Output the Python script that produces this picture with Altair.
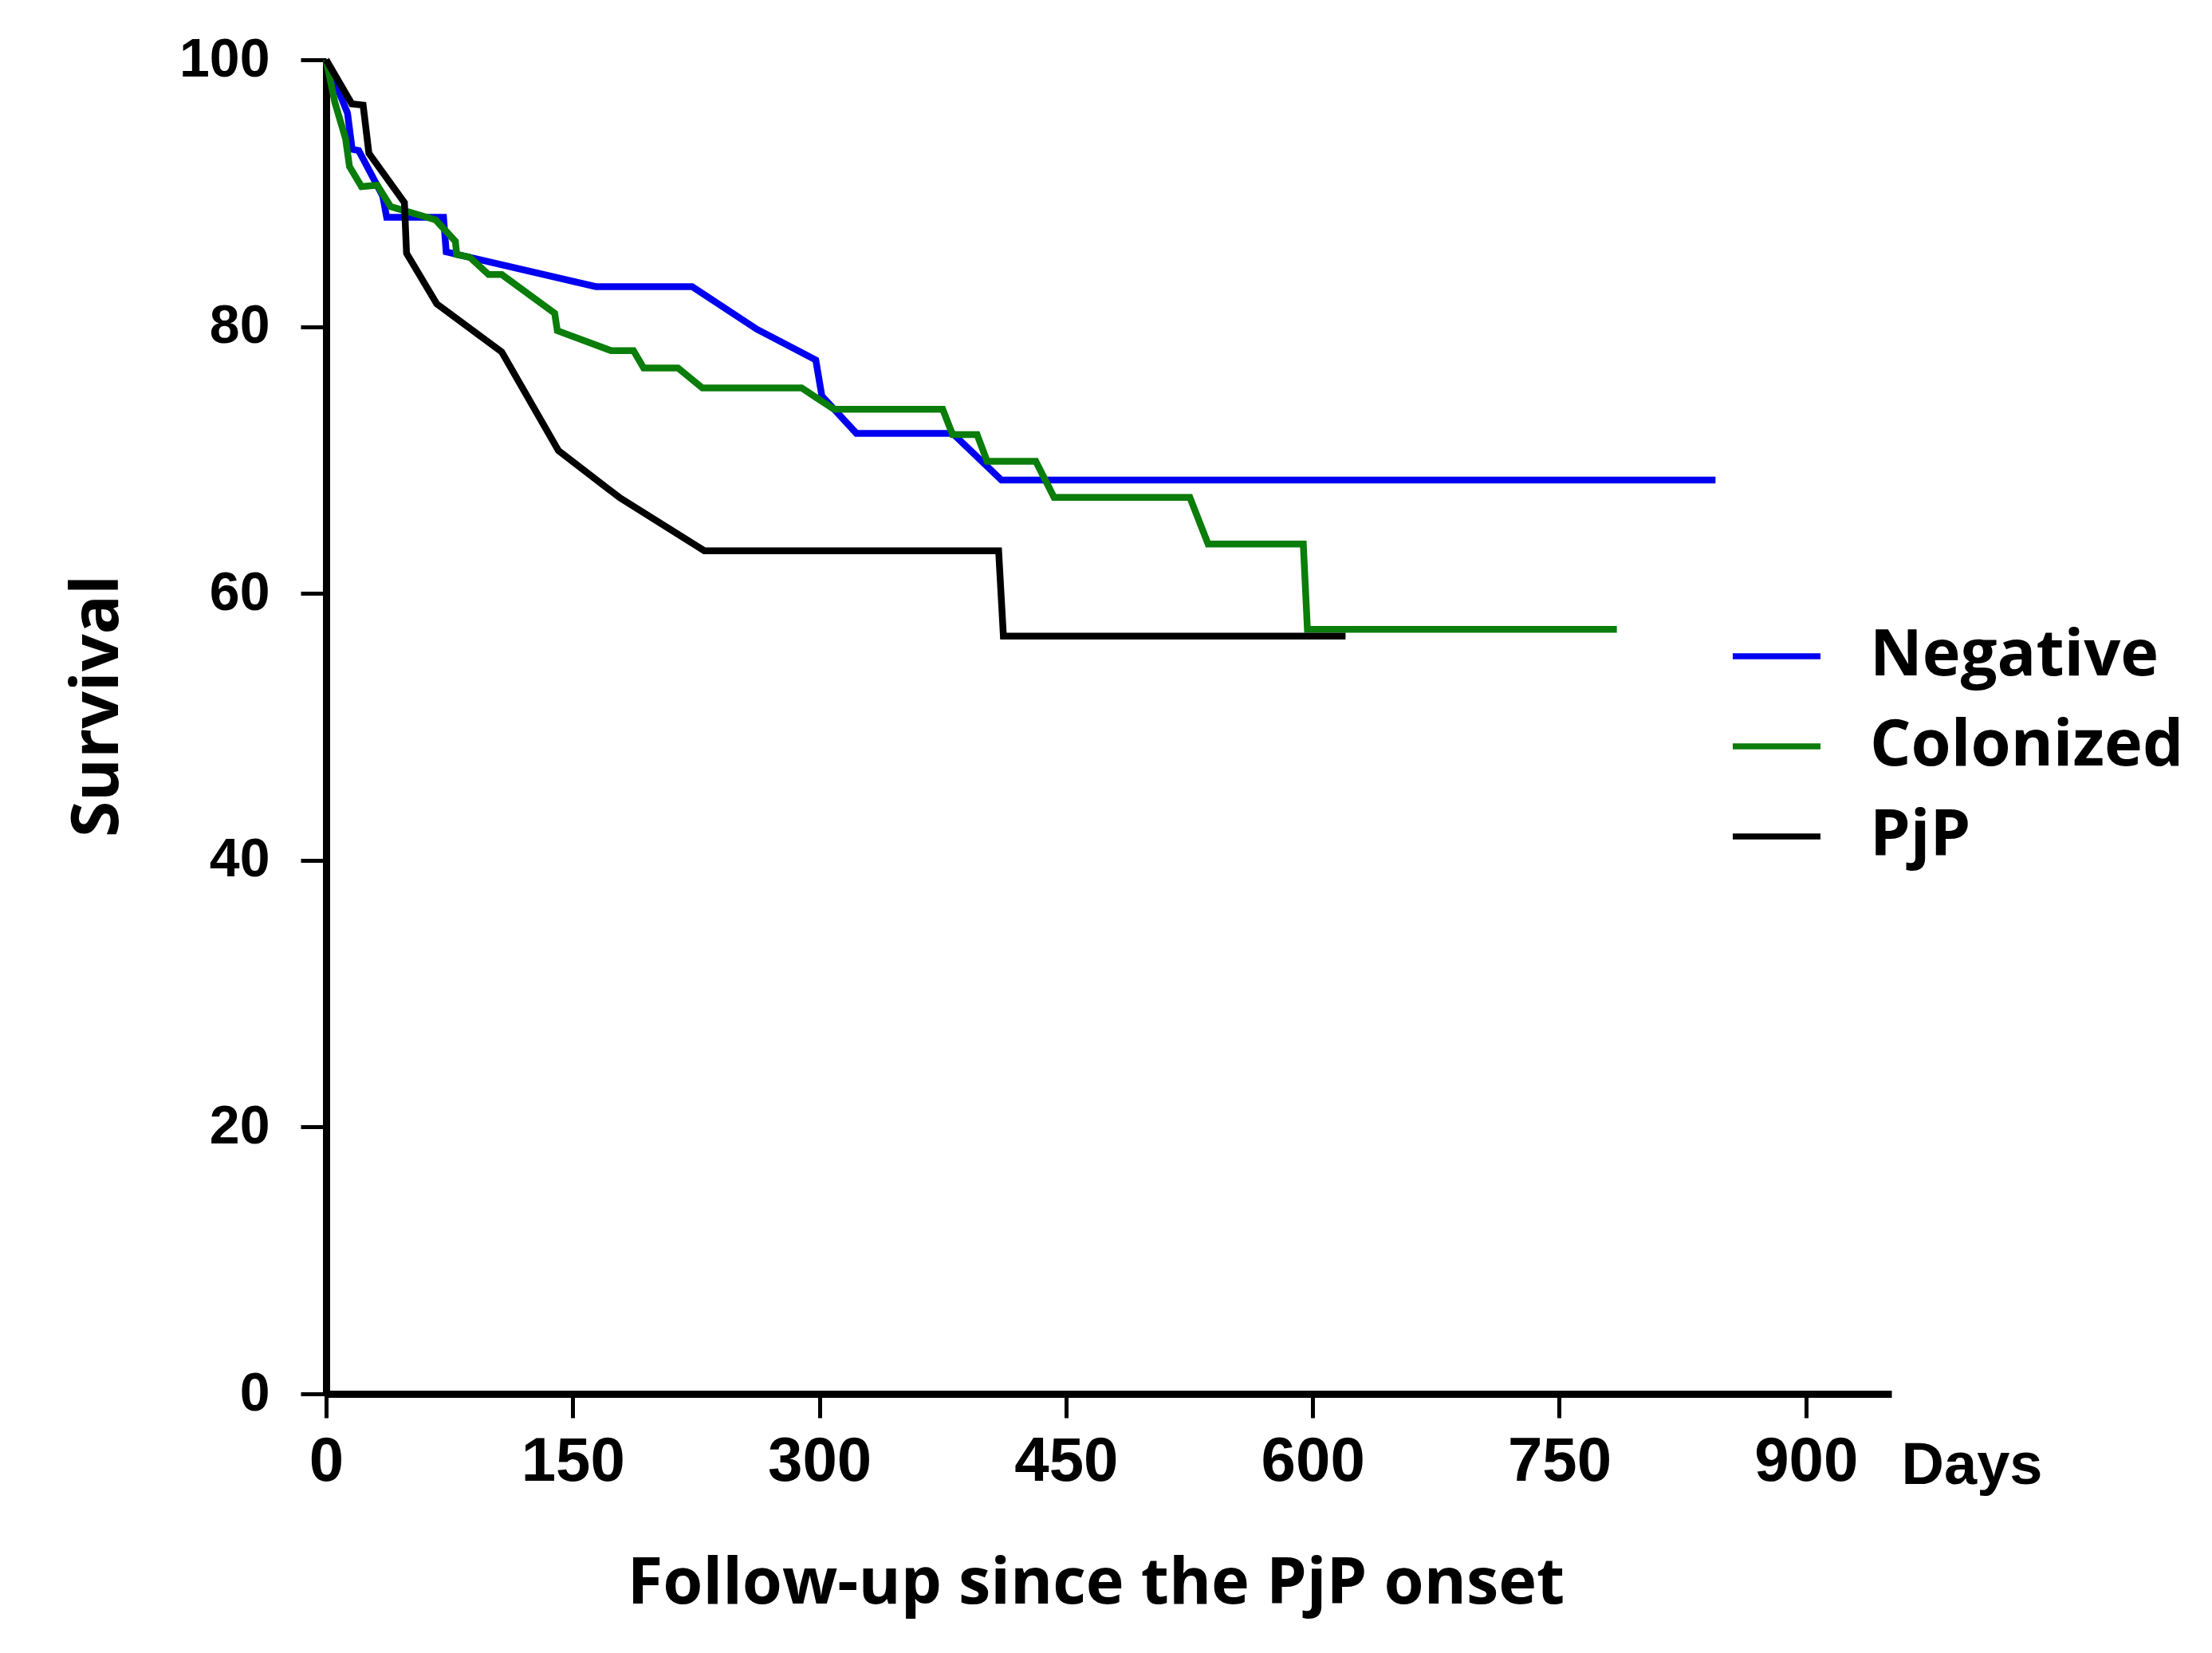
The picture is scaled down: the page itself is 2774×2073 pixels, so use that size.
import altair as alt
import pandas as pd

# ---- data ----
groups = ["Negative", "Colonized", "PjP"]
colors = ["#0000f0", "#0a7d0a", "#000000"]

neg_days = [0, 13, 15.8, 19.8, 34.4, 36.8, 71.4, 73, 164, 222.6, 249.7, 262, 297.8, 301.5, 322.5, 381, 410.7, 845]
neg_surv = [100, 96, 93.3, 93.2, 89.8, 88.2, 88.2, 85.6, 83, 83, 80.8, 79.8, 77.5, 74.8, 72, 72, 68.5, 68.5]

col_days = [0, 5.3, 11.8, 14.2, 21.5, 31.1, 39.2, 66.6, 78.6, 79.4, 87.4, 98.8, 106.8, 139, 140.6, 173.3,
            186.9, 193.1, 214, 228.8, 289.2, 308.9, 375, 381, 395.9, 402, 431.6, 442.7, 525.3, 536.4,
            594.3, 596.8, 785]
col_surv = [100, 96.8, 94.1, 92, 90.5, 90.6, 89, 88, 86.4, 85.4, 85.2, 83.9, 83.9, 81, 79.7, 78.2,
            78.2, 76.9, 76.9, 75.4, 75.4, 73.8, 73.8, 71.9, 71.9, 69.9, 69.9, 67.2, 67.2, 63.7,
            63.7, 57.3, 57.3]

pjp_days = [0, 15.6, 22.5, 26, 47.6, 48.9, 67.3, 106.8, 141.3, 178.3, 230, 409, 411.9, 620]
pjp_surv = [100, 96.7, 96.6, 93, 89.3, 85.5, 81.7, 78.1, 70.7, 67.2, 63.2, 63.2, 56.8, 56.8]

x_ticks = [0, 150, 300, 450, 600, 750, 900]
y_ticks = [0, 20, 40, 60, 80, 100]

rows = []
for g, ds, ss in zip(groups, [neg_days, col_days, pjp_days], [neg_surv, col_surv, pjp_surv]):
    for i, (d, s) in enumerate(zip(ds, ss)):
        rows.append({"group": g, "days": d, "survival": s, "idx": i})
df = pd.DataFrame(rows)

W, H = 1963, 1673

x_scale = alt.Scale(domain=[0, 952], nice=False, zero=False)
y_scale = alt.Scale(domain=[0, 100], nice=False)

lines = alt.Chart(df).mark_line(strokeWidth=8.5, clip=False).encode(
    x=alt.X("days:Q", scale=x_scale,
            axis=alt.Axis(values=x_ticks, title="Follow-up since the PjP onset",
                          grid=False, domainWidth=9, domainColor="black",
                          tickSize=30, tickWidth=5, tickColor="black",
                          labelFont="Liberation Sans", labelFontSize=78,
                          labelFontWeight="bold", labelColor="black",
                          labelBaseline="alphabetic", labelPadding=78, labelFlush=False,
                          titleFont="Open Sans", titleFontSize=81, titleFontWeight="bold",
                          titleColor="black", titleX=965, titleY=262,
                          titleBaseline="alphabetic", titleAnchor="middle")),
    y=alt.Y("survival:Q", scale=y_scale,
            axis=alt.Axis(values=y_ticks, title="Survival", grid=False,
                          domainWidth=9, domainColor="black",
                          tickSize=32, tickWidth=5, tickColor="black",
                          labelFont="Liberation Sans", labelFontSize=68, labelFontWeight="bold",
                          labelColor="black", labelPadding=39,
                          titleFont="Open Sans", titleFontSize=82, titleFontWeight="bold",
                          titleColor="black", titleX=-262, titleY=810, titleAngle=-90,
                          titleBaseline="alphabetic", titleAnchor="middle")),
    color=alt.Color("group:N", scale=alt.Scale(domain=groups, range=colors),
                    legend=alt.Legend(title=None, orient="none", legendX=1760, legendY=689,
                                      symbolType="stroke", symbolSize=12100, symbolStrokeWidth=7.5,
                                      labelFont="Open Sans", labelFontSize=81, labelFontWeight="bold",
                                      labelColor="black", labelOffset=58, labelLimit=2000,
                                      rowPadding=14, padding=0)),
    order=alt.Order("idx:Q"),
)

days_df = pd.DataFrame({"x": [1001], "label": ["Days"]})
days_text = alt.Chart(days_df).mark_text(
    font="Liberation Sans", fontSize=74, fontWeight="bold",
    color="black", align="center", baseline="alphabetic", clip=False
).encode(x=alt.X("x:Q", scale=x_scale), y=alt.value(1786), text="label:N")

chart = alt.layer(lines, days_text).properties(
    width=W, height=H,
    autosize=alt.AutoSizeParams(type="none"),
    padding={"left": 401, "top": 67, "right": 394, "bottom": 317},
).configure(background="white").configure_view(stroke=None, strokeWidth=0)

chart.save("out.html", embed_options={"renderer": "svg", "actions": False})
